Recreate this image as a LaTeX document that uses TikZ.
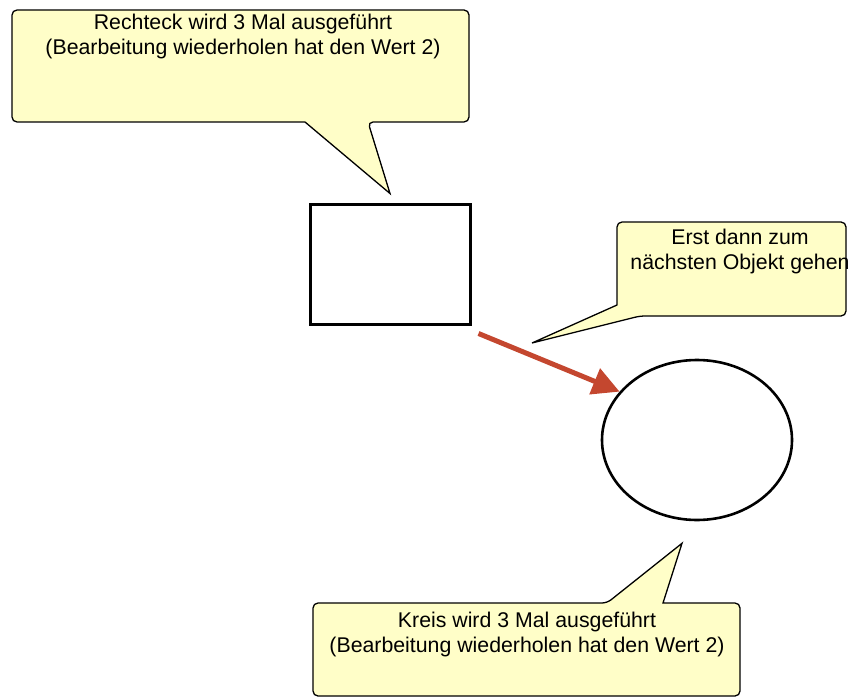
\documentclass[tikz,border=0pt]{standalone}
\usepackage{fontspec}
\setmainfont{Liberation Sans}
\usetikzlibrary{arrows.meta, positioning, shapes.geometric}
\definecolor{noteYellow}{HTML}{FFFEC8}
\definecolor{arrowRed}{HTML}{C4472F}

\begin{document}
\begin{tikzpicture}[
x=1pt, y=-1pt,
callout/.style={draw=black, fill=noteYellow, line width=1.3pt},
note/.style={align=center, inner sep=0pt, font=\fontsize{21.3}{25}\selectfont},
shapebox/.style={draw=black, line width=3pt, minimum width=160pt, minimum height=120pt, inner sep=0pt},
arrow/.style={-{Triangle[length=27pt, width=27pt]}, line width=5pt, arrowRed}
]
\useasboundingbox (0,0) rectangle (848,698);

% the two objects
\node[shapebox] (rect) at (390,264) {};
\node[shapebox, ellipse, line width=2.6pt, minimum width=190pt, minimum height=160pt] (circ) at (697,440) {};

% pointer tips of the callouts
\coordinate (tipTop) at ([yshift=9pt]rect.north);
\coordinate (tipMid) at (532,343);
\coordinate (tipLow) at ([shift={(-15pt,-22pt)}]circ.south);

% callout boxes
\draw[callout] (12,60) [rounded corners=5pt] -- (12,10) -- (469,10) -- (469,122) -- (368,122)
  [sharp corners] -- (tipTop) -- (305,122) [rounded corners=5pt] -- (12,122) -- cycle;
\draw[callout] (617,270) [rounded corners=5pt] -- (617,222) -- (846,222) -- (846,316) -- (640,316)
  [sharp corners] -- (tipMid) -- (617,305) [rounded corners=5pt] -- cycle;
\draw[callout] (313,650) [rounded corners=5pt] -- (313,603) -- (607,603)
  [sharp corners] -- (tipLow) -- (663,603) [rounded corners=5pt] -- (740,603) -- (740,696) -- (313,696) -- cycle;

% texts
\node[note] (topText) at (243,36) {Rechteck wird 3 Mal ausgeführt\\(Bearbeitung wiederholen hat den Wert 2)};
\node[note] (midText) at (740,251) {Erst dann zum\\nächsten Objekt gehen};
\node[note] (lowText) at (527,634) {Kreis wird 3 Mal ausgeführt\\(Bearbeitung wiederholen hat den Wert 2)};

% move on to the next object
\draw[arrow] ([shift={(7pt,-8pt)}]rect.south east) -- (circ.148);
\end{tikzpicture}
\end{document}
